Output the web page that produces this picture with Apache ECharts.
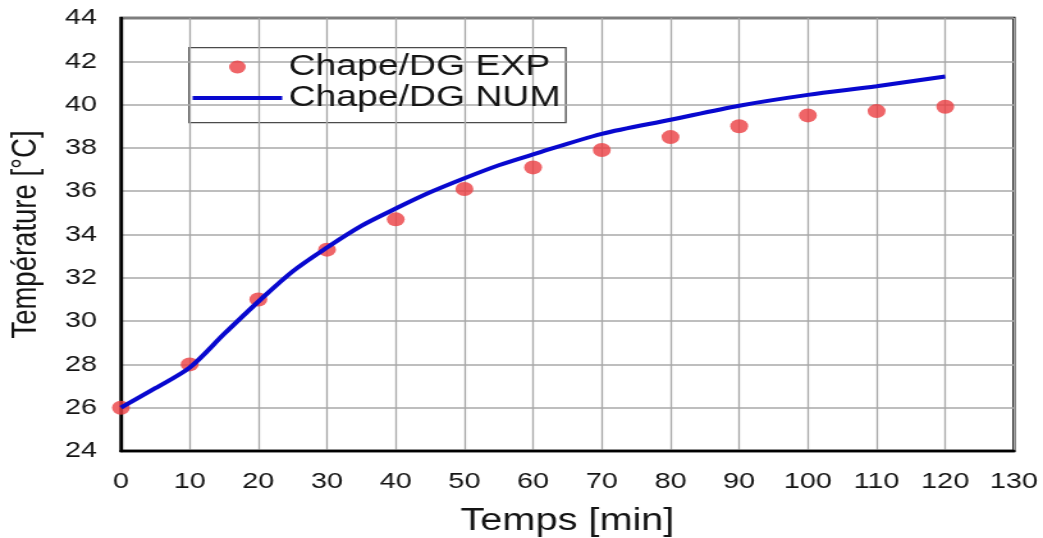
<!DOCTYPE html>
<html>
<head>
<meta charset="utf-8">
<script src="https://cdn.jsdelivr.net/npm/echarts@6/dist/echarts.min.js"></script>
<style>
  html, body { margin: 0; padding: 0; background: #fff; overflow: hidden; }
  /* The figure uses horizontally widened lettering and marks: draw at 815px and widen to 1043px */
  #chart { width: 815px; height: 538px; transform: scaleX(1.27975); transform-origin: 0 0; }
</style>
</head>
<body>
<div id="chart"></div>
<script>
// Measured temperatures (EXP) every 10 minutes
const expTimes = [0, 10, 20, 30, 40, 50, 60, 70, 80, 90, 100, 110, 120];
const expTemps = [26.0, 28.0, 31.0, 33.3, 34.7, 36.1, 37.1, 37.9, 38.5, 39.0, 39.5, 39.7, 39.9];

// Simulated temperature curve (NUM)
const numTimes = [0, 5, 10, 15, 20, 25, 30, 35, 40, 45, 50, 55, 60, 70, 80, 90, 100, 110, 120];
const numTemps = [26.0, 26.9, 27.85, 29.4, 30.9, 32.3, 33.4, 34.4, 35.2, 35.95, 36.6, 37.2, 37.7, 38.65, 39.3, 39.95, 40.45, 40.85, 41.3];

const seriesNames = ['Chape/DG EXP', 'Chape/DG NUM'];

const FONT = '"Liberation Sans", Arial, sans-serif';
const TEXT = '#141414';
const GRID = '#a8a8a8';

const chart = echarts.init(document.getElementById('chart'), null, { renderer: 'canvas' });

chart.setOption({
  backgroundColor: '#ffffff',
  animation: false,
  grid: {
    left: 94.5, top: 18, right: 22.7, bottom: 87,
    containLabel: false, outerBoundsMode: 'none',
    show: true, borderColor: '#000', borderWidth: 2.4, backgroundColor: 'transparent'
  },
  xAxis: {
    type: 'value', min: 0, max: 130, interval: 10,
    name: 'Temps [min]', nameLocation: 'middle', nameGap: 55,
    nameTextStyle: { fontFamily: FONT, fontSize: 31, color: TEXT },
    axisLine: { show: true, lineStyle: { color: '#000', width: 2.4 } },
    axisTick: { show: false },
    axisLabel: { fontFamily: FONT, fontSize: 22.5, color: TEXT, margin: 19 },
    splitLine: { show: true, lineStyle: { color: GRID, width: 1.3 } }
  },
  yAxis: {
    type: 'value', min: 24, max: 44, interval: 2,
    name: 'Température [°C]', nameLocation: 'middle', nameGap: 60,
    nameTextStyle: { fontFamily: FONT, fontSize: 27.5, color: TEXT },
    axisLine: { show: true, lineStyle: { color: '#000', width: 2.4 } },
    axisTick: { show: false },
    axisLabel: { fontFamily: FONT, fontSize: 22.5, color: TEXT, margin: 18.7 },
    splitLine: { show: true, lineStyle: { color: GRID, width: 1.5 } }
  },
  legend: {
    data: [
      { name: seriesNames[0], icon: 'circle' },
      { name: seriesNames[1], icon: 'path://M0,0H70V4H0Z' }
    ],
    left: 145.5, top: 46.5, orient: 'vertical', align: 'left',
    padding: 5, itemWidth: 70, itemHeight: 13, itemGap: 0,
    textStyle: { fontFamily: FONT, fontSize: 29.2, lineHeight: 31, color: TEXT }
  },
  graphic: [
    {
      type: 'rect', left: 147, top: 47, z: 0,
      shape: { width: 294.5, height: 75 },
      style: { fill: '#fff', stroke: '#4a4a4a', lineWidth: 1.3 }
    }
  ],
  series: [
    {
      name: seriesNames[0], type: 'scatter',
      data: expTimes.map((t, i) => [t, expTemps[i]]),
      symbol: 'circle', symbolSize: 14,
      itemStyle: { color: '#eb3f42' }, z: 2
    },
    {
      name: seriesNames[1], type: 'line',
      data: numTimes.map((t, i) => [t, numTemps[i]]),
      showSymbol: false, symbol: 'none', smooth: 0.3,
      lineStyle: { color: '#0808cf', width: 4 },
      itemStyle: { color: '#0808cf' }, z: 3
    }
  ]
});
</script>
</body>
</html>
